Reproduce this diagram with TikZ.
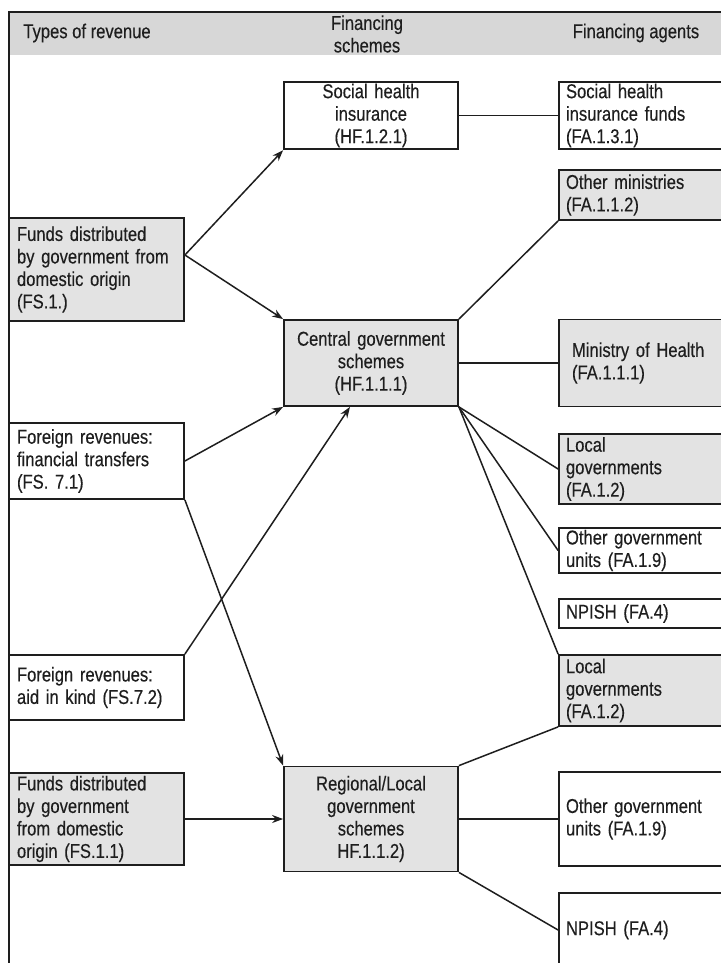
\documentclass[tikz,border=0pt]{standalone}
\usepackage{fontspec}
\setmainfont{Liberation Sans}[FakeStretch=0.83, FakeBold=0.3]
\usepackage{tikz}
\usetikzlibrary{arrows.meta}
\definecolor{boxgray}{HTML}{E3E3E3}
\definecolor{hdrgray}{HTML}{D7D7D7}
\definecolor{inkgray}{HTML}{1E1E1E}
\newcommand{\spreadline}[2]{\makebox[#1][s]{#2}}

\begin{document}
\begin{tikzpicture}[x=0.5pt, y=-0.5pt,
            every node/.style={font=\fontsize{10}{11.25}\selectfont, text=inkgray},
            revbox/.style={draw=inkgray, line width=0.9pt, inner xsep=4pt, inner ysep=1pt, text width=79.5pt, align=left},
            schbox/.style={draw=inkgray, line width=0.9pt, inner xsep=3.5pt, inner ysep=1pt, text width=80pt, align=center},
            agtbox/.style={draw=inkgray, line width=0.9pt, inner xsep=3.5pt, inner ysep=1pt, text width=81pt, align=left},
            link/.style={draw=inkgray, line width=0.75pt},
            flow/.style={link, -{Stealth[length=5.5pt, width=4pt]}}]
            \useasboundingbox (0,0) rectangle (721,963);

            %header
            \fill[hdrgray] (9,12) rectangle (721,55);
            \draw[inkgray, line width=1pt] (9,963) -- (9,12) -- (721,12);
            \node (hdrrev) at (87,33) {Types of revenue};
            \node[align=center] (hdrsch) at (367,34) {Financing\\schemes};
            \node (hdragt) at (636,33) {Financing agents};

            %nodes
            \node[revbox, fill=boxgray, minimum height=51.5pt] (fsdom) at (96.5,269.5) {Funds distributed\\by government from\\domestic origin\\(FS.1.)};
            \node[revbox, fill=white, minimum height=38pt] (fstrans) at (96.5,461) {\spreadline{72.5pt}{Foreign revenues:}\\\spreadline{72.5pt}{financial transfers}\\(FS. 7.1)};
            \node[revbox, fill=white, minimum height=32.5pt] (fskind) at (96.5,687.5) {\spreadline{72.5pt}{Foreign revenues:}\\aid in kind (FS.7.2)};
            \node[revbox, fill=boxgray, minimum height=46pt] (fslocal) at (96.5,819) {Funds distributed\\by government\\from domestic\\origin (FS.1.1)};

            \node[schbox, fill=white, minimum height=32.5pt] (shi) at (371,115.5) {Social health\\insurance\\(HF.1.2.1)};
            \node[schbox, fill=boxgray, minimum height=43pt] (central) at (371,363) {Central government\\schemes\\(HF.1.1.1)};
            \node[schbox, fill=boxgray, minimum height=52.5pt] (regional) at (371,819) {Regional/Local\\government\\schemes\\HF.1.1.2)};

            \node[agtbox, fill=white, minimum height=33.5pt] (shifunds) at (647,115.5) {Social health\\insurance funds\\(FA.1.3.1)};
            \node[agtbox, fill=boxgray, minimum height=25pt] (othermin) at (647,195) {Other ministries\\(FA.1.1.2)};
            \node[agtbox, fill=boxgray, minimum height=43.5pt] (moh) at (647,363) {\hspace{3pt}\spreadline{70.5pt}{Ministry of Health}\\\hspace{3pt}(FA.1.1.1)};
            \node[agtbox, fill=boxgray, minimum height=35pt] (localA) at (647,469) {Local\\governments\\(FA.1.2)};
            \node[agtbox, fill=white, minimum height=22.5pt] (otherA) at (647,550.5) {\spreadline{70.5pt}{Other government}\\units (FA.1.9)};
            \node[agtbox, fill=white, minimum height=14.5pt] (npishA) at (647,613.5) {NPISH (FA.4)};
            \node[agtbox, fill=boxgray, minimum height=35.5pt] (localB) at (647,690.5) {Local\\governments\\(FA.1.2)};
            \node[agtbox, fill=white, minimum height=47pt] (otherB) at (647,819) {Other government\\units (FA.1.9)};
            \node[agtbox, fill=white, minimum height=37pt] (npishB) at (647,930) {NPISH (FA.4)};

            %edges
            \draw[flow] ([yshift=7.25pt]fsdom.east) -- (shi.south west);
            \draw[flow] ([yshift=7.25pt]fsdom.east) -- (central.north west);
            \draw[flow] (fstrans.east) -- (central.south west);
            \draw[flow] (fskind.north east) -- ([xshift=-10.5pt]central.south);
            \draw[flow] (fstrans.south east) -- (regional.north west);
            \draw[flow] (fslocal.east) -- (regional.west);

            \draw[link] (shi.east) -- (shifunds.west);
            \draw[link] (central.north east) -- (othermin.south west);
            \draw[link] (central.east) -- (moh.west);
            \draw[link] (central.south east) -- (localA.west);
            \draw[link] (central.south east) -- (otherA.west);
            \draw[link] (central.south east) -- (localB.north west);
            \draw[link] (regional.north east) -- (localB.south west);
            \draw[link] (regional.east) -- (otherB.west);
            \draw[link] (regional.south east) -- (npishB.west);
        \end{tikzpicture}
\end{document}
